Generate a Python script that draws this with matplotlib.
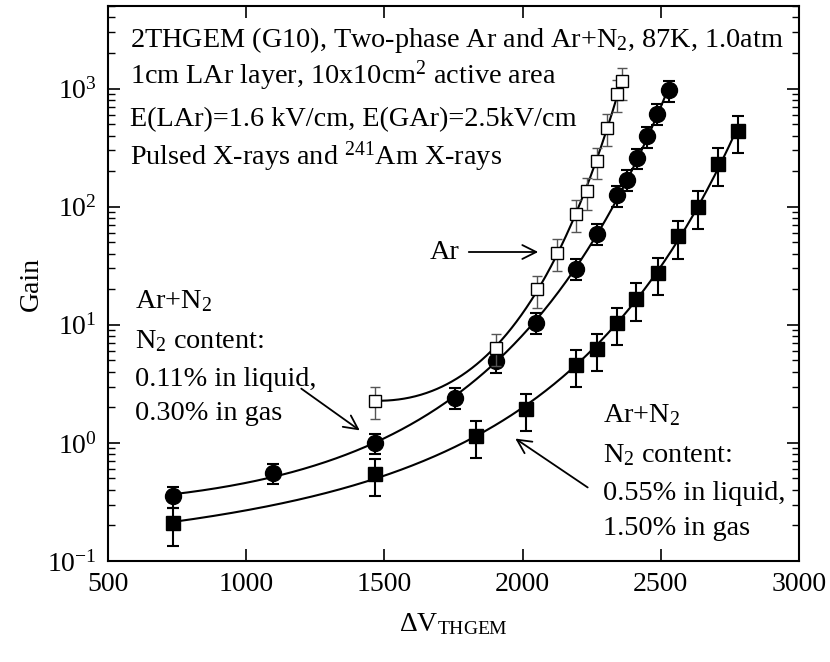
import numpy as np
import matplotlib
matplotlib.use("Agg")
import matplotlib.pyplot as plt
from matplotlib.ticker import LogLocator, NullFormatter

plt.rcParams['font.family'] = ['Liberation Serif', 'DejaVu Serif']
plt.rcParams['mathtext.fontset'] = 'custom'
plt.rcParams['mathtext.rm'] = 'Liberation Serif'
plt.rcParams['mathtext.it'] = 'Liberation Serif:italic'
plt.rcParams['mathtext.bf'] = 'Liberation Serif:bold'
plt.rcParams['axes.unicode_minus'] = False

# ---- data ----
ar_x = [1466, 1904, 2051, 2123, 2193, 2232, 2268, 2304, 2340, 2361]
ar_y = [2.28, 6.4, 19.9, 40.7, 87, 135, 243, 464, 907, 1153]
ar_err = 0.30

n011_x = [734, 1098, 1466, 1755, 1904, 2049, 2193, 2268, 2343, 2379, 2415, 2451, 2488, 2531]
n011_y = [0.353, 0.557, 1.0, 2.41, 4.9, 10.4, 29.8, 59, 125, 169, 258, 396, 614, 968]
n011_err = 0.20

n055_x = [734, 1466, 1830, 2012, 2193, 2268, 2340, 2411, 2489, 2561, 2634, 2706, 2781]
n055_y = [0.208, 0.546, 1.14, 1.94, 4.55, 6.2, 10.3, 16.6, 27.4, 56, 100, 231, 437]
n055_err = 0.35

xticks = [500, 1000, 1500, 2000, 2500, 3000]

fig = plt.figure(figsize=(8.3, 6.62), dpi=100)
ax = fig.add_axes([108/830, 1-561/662, 691/830, 555/662])
ax.set_yscale('log')
ax.set_xlim(500, 3000)
ax.set_ylim(0.1, 5000)

def fit_curve(x, y):
    # least-squares fit: log10(y) = a + b*x + c*exp(k*(x-2000)), k scanned
    x = np.asarray(x, float); ly = np.log10(np.asarray(y, float))
    best = None
    for k in np.linspace(0.0005, 0.02, 400):
        A = np.column_stack([np.ones_like(x), x, np.exp(k*(x-2000))])
        coef, *_ = np.linalg.lstsq(A, ly, rcond=None)
        r = np.sum((A @ coef - ly)**2)
        if best is None or r < best[0]:
            best = (r, k, coef)
    _, k, coef = best
    xx = np.linspace(x.min(), x.max(), 400)
    fy = coef[0] + coef[1]*xx + coef[2]*np.exp(k*(xx-2000))
    return xx, 10**fy

for x, y in [(ar_x, ar_y), (n011_x, n011_y), (n055_x, n055_y)]:
    xx, yy = fit_curve(x, y)
    ax.plot(xx, yy, color='black', lw=1.5, zorder=2)

def eb(x, y, rel, **kw):
    y = np.asarray(y, float)
    ax.errorbar(x, y, yerr=rel*y, linestyle='none', **kw)

eb(n055_x, n055_y, n055_err, marker='s', ms=10, mfc='black', mec='black',
   ecolor='black', elinewidth=1.5, capsize=4.2, capthick=1.5, zorder=3)
eb(n011_x, n011_y, n011_err, marker='o', ms=11.5, mfc='black', mec='black',
   ecolor='black', elinewidth=1.5, capsize=4.2, capthick=1.5, zorder=3)
eb(ar_x, ar_y, ar_err, marker='s', ms=9.2, mfc='white', mec='black', mew=1.0,
   ecolor='#555555', elinewidth=1.0, capsize=3.8, capthick=1.0, zorder=4)

# ticks
ax.set_xticks(xticks)
ax.set_xticklabels([str(t) for t in xticks])
ax.yaxis.set_major_locator(LogLocator(base=10, numticks=10))
ax.yaxis.set_minor_locator(LogLocator(base=10, subs=np.arange(2, 10), numticks=20))
ax.yaxis.set_minor_formatter(NullFormatter())
ax.tick_params(axis='both', which='major', direction='in', length=8.6, width=1.2,
               top=True, right=True, labelsize=20, pad=8)
ax.tick_params(axis='y', which='minor', direction='in', length=5, width=1.0, right=True)
ax.tick_params(axis='x', which='minor', bottom=False, top=False)
for s in ax.spines.values():
    s.set_linewidth(1.5)

ax.set_ylabel('Gain', fontsize=20)
ax.yaxis.set_label_coords(-64/691, 0.5)
ax.set_xlabel('ΔV$_{\\mathregular{THGEM}}$', fontsize=20)
ax.xaxis.set_label_coords(0.5, -50/555)

def px(xp, yp):
    return ((xp-108)/691, (561-yp)/555)

fs = 20.3
tr = ax.transAxes
ax.text(*px(130, 47), '2THGEM (G10), Two-phase Ar and Ar+N$_2$, 87K, 1.0atm', fontsize=20.3, transform=tr, va='baseline')
ax.text(*px(130, 84), '1cm LAr layer, 10x10cm$^2$ active area', fontsize=fs, transform=tr, va='baseline')
ax.text(*px(130, 126), 'E(LAr)=1.6 kV/cm, E(GAr)=2.5kV/cm', fontsize=fs, transform=tr, va='baseline')
ax.text(*px(130, 165), 'Pulsed X-rays and $^{241}$Am X-rays', fontsize=fs, transform=tr, va='baseline')

ax.text(*px(430, 259), 'Ar', fontsize=fs, transform=tr, va='baseline')
ax.annotate('', xy=px(541, 252), xytext=px(466, 252), xycoords=tr, textcoords=tr,
            arrowprops=dict(arrowstyle='->', lw=1.3, color='black', mutation_scale=25))

left = [('Ar+N$_2$', 308), ('N$_2$ content:', 348), ('0.11% in liquid,', 386), ('0.30% in gas', 420)]
for t, yb in left:
    ax.text(*px(135, yb), t, fontsize=fs, transform=tr, va='baseline')
ax.annotate('', xy=px(362, 432), xytext=px(299, 387), xycoords=tr, textcoords=tr,
            arrowprops=dict(arrowstyle='->', lw=1.3, color='black', mutation_scale=25))

right = [('Ar+N$_2$', 422), ('N$_2$ content:', 462), ('0.55% in liquid,', 500), ('1.50% in gas', 535)]
for t, yb in right:
    ax.text(*px(603, yb), t, fontsize=fs, transform=tr, va='baseline')
ax.annotate('', xy=px(513, 437), xytext=px(590, 489), xycoords=tr, textcoords=tr,
            arrowprops=dict(arrowstyle='->', lw=1.3, color='black', mutation_scale=25))

fig.savefig('out.png', dpi=100)
